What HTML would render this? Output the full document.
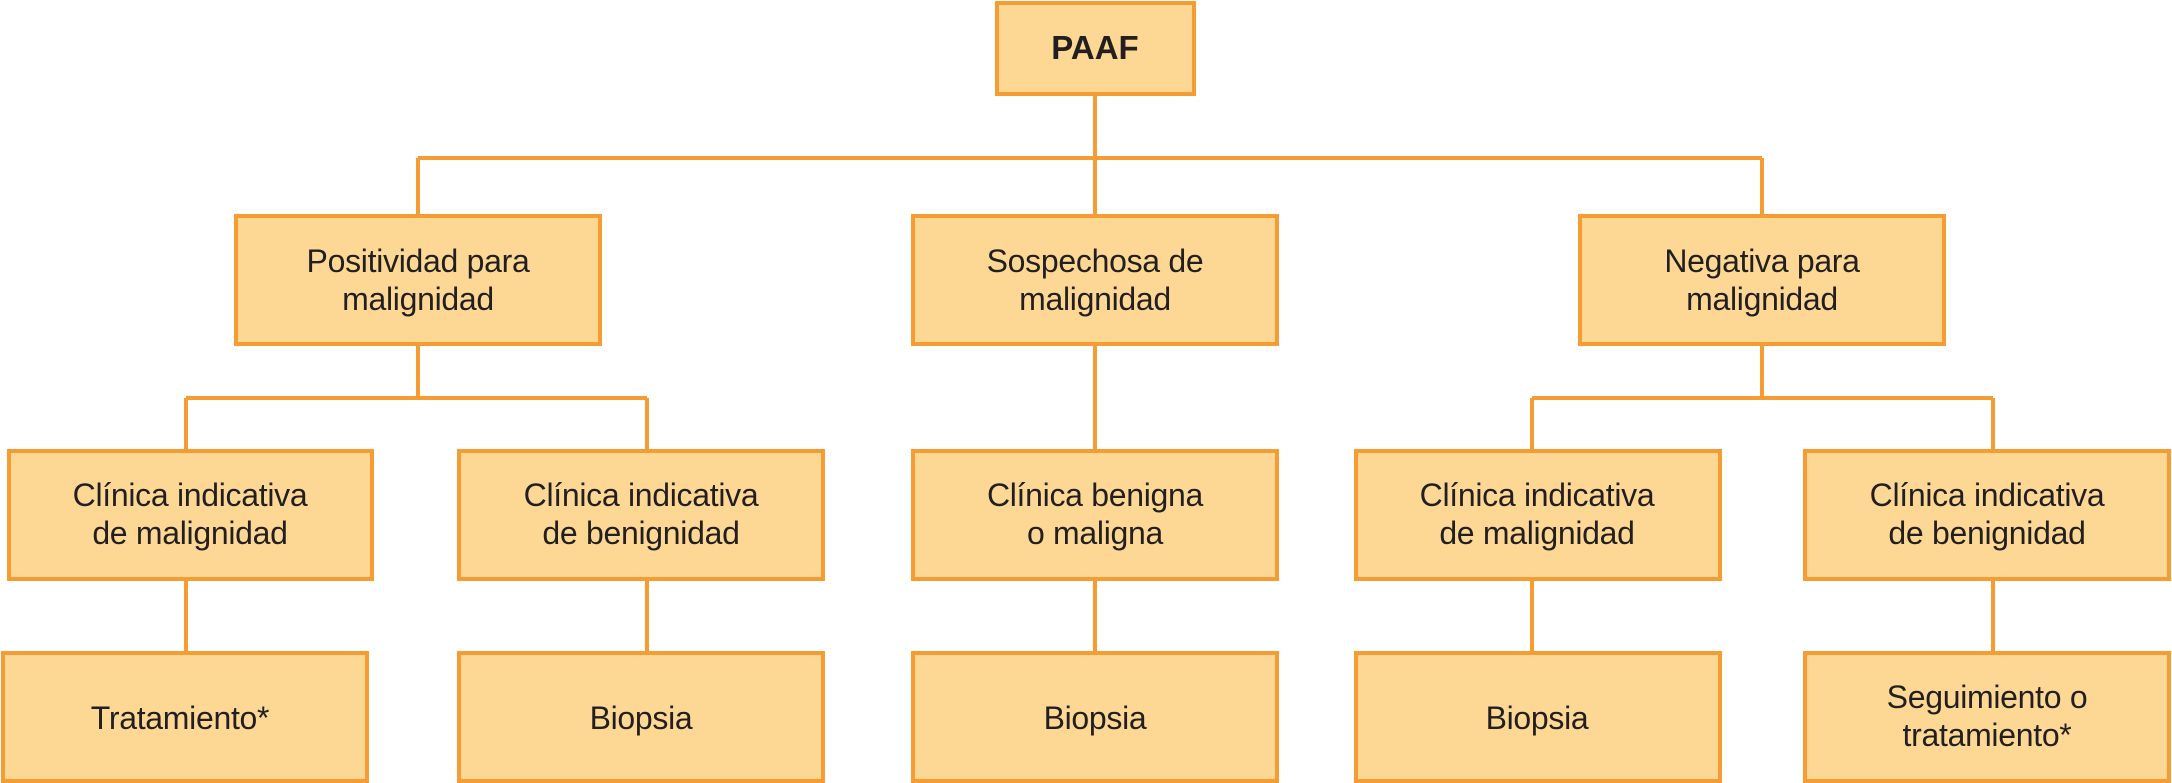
<!DOCTYPE html>
<html><head><meta charset="utf-8"><style>
html,body{margin:0;padding:0;background:#fff;}
svg{display:block}
text{font-family:"Liberation Sans",sans-serif;font-size:32px;fill:#231f20;text-anchor:middle;letter-spacing:-0.3px}
rect{fill:#FCD894;stroke:#F59C33;stroke-width:4}
line{stroke:#F59C33;stroke-width:4}
</style></head><body>
<svg width="2172" height="783" viewBox="0 0 2172 783">
<line x1="1095" y1="94" x2="1095" y2="216"/>
<line x1="418" y1="158" x2="1762" y2="158"/>
<line x1="418" y1="158" x2="418" y2="216"/>
<line x1="1762" y1="158" x2="1762" y2="216"/>
<line x1="418" y1="345" x2="418" y2="398"/>
<line x1="186" y1="398" x2="647" y2="398"/>
<line x1="186" y1="398" x2="186" y2="451"/>
<line x1="647" y1="398" x2="647" y2="451"/>
<line x1="1095" y1="345" x2="1095" y2="451"/>
<line x1="1762" y1="345" x2="1762" y2="398"/>
<line x1="1532" y1="398" x2="1993" y2="398"/>
<line x1="1532" y1="398" x2="1532" y2="451"/>
<line x1="1993" y1="398" x2="1993" y2="451"/>
<line x1="186" y1="580" x2="186" y2="653"/>
<line x1="647" y1="580" x2="647" y2="653"/>
<line x1="1095" y1="580" x2="1095" y2="653"/>
<line x1="1532" y1="580" x2="1532" y2="653"/>
<line x1="1993" y1="580" x2="1993" y2="653"/>

<rect x="997" y="3" width="197" height="91"/>
<text x="1095" y="59" style="font-weight:bold;font-size:33px;letter-spacing:0">PAAF</text>

<rect x="236" y="216" width="364" height="128"/>
<text x="418" y="272">Positividad para</text><text x="418" y="310">malignidad</text>
<rect x="913" y="216" width="364" height="128"/>
<text x="1095" y="272">Sospechosa de</text><text x="1095" y="310">malignidad</text>
<rect x="1580" y="216" width="364" height="128"/>
<text x="1762" y="272">Negativa para</text><text x="1762" y="310">malignidad</text>

<rect x="9" y="451" width="363" height="128"/>
<text x="190" y="506">Clínica indicativa</text><text x="190" y="544">de malignidad</text>
<rect x="459" y="451" width="364" height="128"/>
<text x="641" y="506">Clínica indicativa</text><text x="641" y="544">de benignidad</text>
<rect x="913" y="451" width="364" height="128"/>
<text x="1095" y="506">Clínica benigna</text><text x="1095" y="544">o maligna</text>
<rect x="1356" y="451" width="364" height="128"/>
<text x="1537" y="506">Clínica indicativa</text><text x="1537" y="544">de malignidad</text>
<rect x="1805" y="451" width="364" height="128"/>
<text x="1987" y="506">Clínica indicativa</text><text x="1987" y="544">de benignidad</text>

<rect x="3" y="653" width="364" height="128"/>
<text x="180" y="729">Tratamiento*</text>
<rect x="459" y="653" width="364" height="128"/>
<text x="641" y="729">Biopsia</text>
<rect x="913" y="653" width="364" height="128"/>
<text x="1095" y="729">Biopsia</text>
<rect x="1356" y="653" width="364" height="128"/>
<text x="1537" y="729">Biopsia</text>
<rect x="1805" y="653" width="364" height="128"/>
<text x="1987" y="708">Seguimiento o</text><text x="1987" y="746">tratamiento*</text>
</svg>
</body></html>
